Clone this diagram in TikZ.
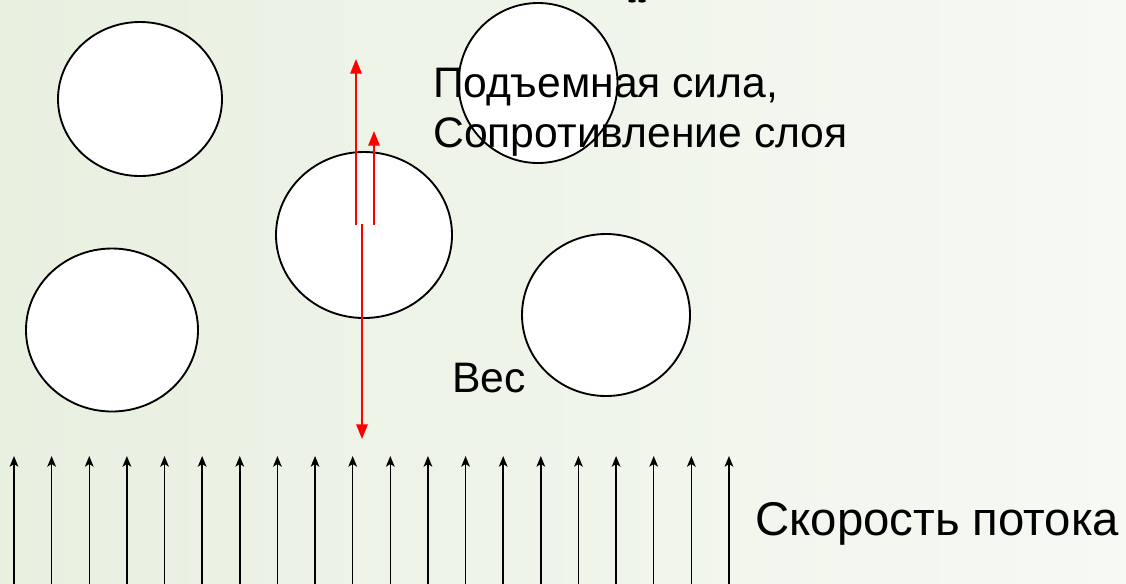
\documentclass[tikz,border=0pt]{standalone}
\usepackage{fontspec}
\setmainfont{Liberation Sans}
\usetikzlibrary{arrows.meta,shapes.geometric}
\definecolor{bgleft}{RGB}{232,240,224}
\definecolor{bgright}{RGB}{247,249,244}
\tikzset{
  ball/.style={ellipse, draw=black, line width=1.4pt, fill=white, inner sep=0pt},
  force/.style={red, line width=1.5pt, -{Triangle[length=11pt,width=8.5pt]}},
  flow/.style={black, line width=1.1pt, -{Stealth[length=8pt,width=6.5pt,inset=2pt]}},
  label/.style={font=\fontsize{32pt}{38pt}\selectfont, inner sep=0pt, anchor=base west},
  biglabel/.style={font=\fontsize{35.5pt}{40pt}\selectfont, inner sep=0pt, anchor=base west}
}
\begin{document}
\begin{tikzpicture}[x=0.75pt,y=-0.75pt]
\useasboundingbox (0,0) rectangle (1126,583);
\shade[left color=bgleft, right color=bgright] (0,0) rectangle (1126,583);
% particles
\node[ball, minimum width=123pt, minimum height=115.5pt] (c1) at (140,99) {};
\node[ball, minimum width=119.25pt, minimum height=120pt] (c2) at (538,83) {};
\node[ball, minimum width=132pt, minimum height=124.5pt] (c3) at (364,235) {};
\node[ball, minimum width=129pt, minimum height=122.25pt] (c4) at (112,330) {};
\node[ball, minimum width=126pt, minimum height=121.5pt] (c5) at (606,315) {};
% cut-off glyph at top edge
\fill (632,1) ellipse (3pt and 1.2pt);
\fill (642,1) ellipse (3pt and 1.2pt);
% labels
\node[label] (lift) at (433,97) {Подъемная сила,};
\node[label] (resist) at (433,147) {Сопротивление слоя};
\node[label] (weight) at (452,392) {Вес};
\node[biglabel] (speed) at (755,535) {Скорость потока};
% forces
\coordinate (l0) at (356,225); \coordinate (l1) at (356,59);
\coordinate (r0) at (374,225); \coordinate (r1) at (374,131);
\coordinate (w0) at (362,224); \coordinate (w1) at (362,439);
\draw[force] (l0) -- (l1);
\draw[force] (r0) -- (r1);
\draw[force] (w0) -- (w1);
% flow arrows
\foreach \i in {0,...,19}{
  \coordinate (fb\i) at ({14+37.63*\i},585);
  \coordinate (ft\i) at ({14+37.63*\i},456);
  \draw[flow] (fb\i) -- (ft\i);
}
\end{tikzpicture}
\end{document}
